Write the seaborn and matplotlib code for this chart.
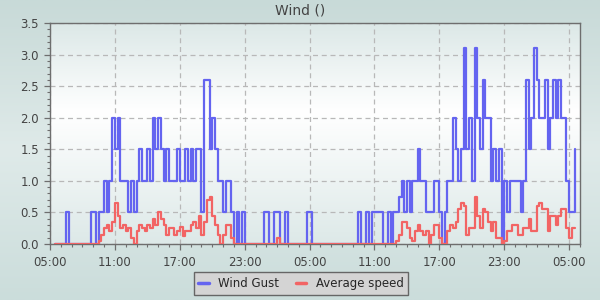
import numpy as np
import pandas as pd
import matplotlib
matplotlib.use("Agg")
import matplotlib.pyplot as plt
from matplotlib.lines import Line2D
from matplotlib.ticker import MultipleLocator
import seaborn as sns

# ---------------- data (15-minute samples, hours after 05:00 of day 1) ----------------
start_hour = 0.5
step_hours = 0.25

wind_gust = [
    0, 0,
    0, 0, 0.5, 0,
    0, 0, 0, 0,
    0, 0, 0, 0.5,
    0.5, 0, 0.5, 0.5,
    1.0, 0.5, 1.0, 2.0,
    1.5, 2.0, 1.0, 1.0,
    1.0, 0.5, 1.0, 0.5,
    1.0, 1.5, 1.0, 1.0,
    1.5, 1.0, 2.0, 1.5,
    2.0, 1.5, 1.0, 1.5,
    1.0, 1.0, 1.0, 1.5,
    1.0, 1.0, 1.5, 1.0,
    1.5, 1.0, 1.5, 1.5,
    0.5, 2.6, 2.6, 1.5,
    2.0, 1.5, 1.0, 1.0,
    0.5, 1.0, 1.0, 0.5,
    0, 0.5, 0, 0.5,
    0, 0, 0, 0,
    0, 0, 0, 0.5,
    0.5, 0, 0, 0.5,
    0.5, 0, 0, 0.5,
    0, 0, 0, 0,
    0, 0, 0, 0.5,
    0.5, 0, 0, 0,
    0, 0, 0, 0,
    0, 0, 0, 0,
    0, 0, 0, 0,
    0, 0, 0.5, 0,
    0, 0.5, 0, 0.5,
    0.5, 0.5, 0.5, 0,
    0, 0.5, 0, 0.5,
    0.5, 0.75, 1.0, 0.5,
    1.0, 0.5, 1.0, 1.0,
    1.5, 1.0, 1.0, 0.5,
    0.5, 0.5, 1.0, 1.0,
    0.5, 0, 0.5, 1.0,
    1.0, 2.0, 1.5, 1.0,
    1.5, 3.1, 1.5, 2.0,
    1.0, 3.1, 2.0, 1.5,
    2.6, 2.0, 2.0, 1.0,
    1.5, 1.0, 1.5, 0,
    1.0, 0.5, 1.0, 1.0,
    1.0, 1.0, 0.5, 1.0,
    2.6, 1.5, 2.0, 3.1,
    2.6, 2.0, 2.0, 2.6,
    1.5, 2.0, 2.6, 2.0,
    2.6, 2.0, 2.0, 1.0,
    0.5, 0.5, 1.5,
]

average_speed = [
    0, 0,
    0, 0, 0, 0,
    0, 0, 0, 0,
    0, 0, 0, 0,
    0, 0, 0.05, 0.15,
    0.25, 0.3, 0.2, 0.35,
    0.65, 0.45, 0.25, 0.3,
    0.2, 0.25, 0.1, 0.0,
    0.2, 0.3, 0.25, 0.2,
    0.3, 0.25, 0.4, 0.3,
    0.5, 0.4, 0.3, 0.15,
    0.25, 0.25, 0.15, 0.2,
    0.27, 0.12, 0.2, 0.2,
    0.3, 0.35, 0.25, 0.45,
    0.15, 0.35, 0.7, 0.75,
    0.45, 0.3, 0.15, 0.0,
    0.15, 0.3, 0.3, 0.1,
    0, 0, 0, 0,
    0, 0, 0, 0,
    0, 0, 0, 0,
    0, 0, 0, 0,
    0.1, 0, 0, 0,
    0, 0, 0, 0,
    0, 0, 0, 0,
    0, 0, 0, 0,
    0, 0, 0, 0,
    0, 0, 0, 0,
    0, 0, 0, 0,
    0, 0, 0, 0,
    0, 0, 0, 0,
    0, 0, 0, 0,
    0, 0, 0, 0,
    0.05, 0.15, 0.35, 0.35,
    0.25, 0.1, 0.05, 0.2,
    0.3, 0.2, 0.15, 0.2,
    0.0, 0.15, 0.3, 0.3,
    0.1, 0.0, 0.0, 0.2,
    0.3, 0.25, 0.35, 0.55,
    0.65, 0.6, 0.15, 0.25,
    0.25, 0.75, 0.45, 0.25,
    0.55, 0.5, 0.35, 0.2,
    0.35, 0.1, 0.1, 0.0,
    0.05, 0.2, 0.2, 0.3,
    0.3, 0.15, 0.15, 0.25,
    0.25, 0.4, 0.2, 0.2,
    0.6, 0.65, 0.55, 0.55,
    0.2, 0.45, 0.45, 0.3,
    0.45, 0.55, 0.55, 0.25,
    0.1, 0.25, 0.25,
]

series_names = ["Wind Gust", "Average speed"]
series_colors = ["#6464f0", "#f26464"]
x_tick_hours = [0, 6, 12, 18, 24, 30, 36, 42, 48]
x_tick_labels = ["05:00", "11:00", "17:00", "23:00", "05:00", "11:00", "17:00", "23:00", "05:00"]
y_ticks = [0.0, 0.5, 1.0, 1.5, 2.0, 2.5, 3.0, 3.5]
title = "Wind ()"

# ---------------- build table ----------------
df = pd.concat([
    pd.DataFrame({"hour": start_hour + step_hours * np.arange(len(wind_gust)),
                  "value": wind_gust, "series": series_names[0]}),
    pd.DataFrame({"hour": start_hour + step_hours * np.arange(len(average_speed)),
                  "value": average_speed, "series": series_names[1]}),
], ignore_index=True)

sns.set_theme(style="white")
plt.rcParams["font.family"] = ["DejaVu Sans"]

fig = plt.figure(figsize=(6, 3), dpi=100)

# figure background gradient
bg = fig.add_axes([0, 0, 1, 1], zorder=-10)
bg.axis("off")
pos = np.linspace(0, 1, 200)
top_c = np.array([200, 218, 216]) / 255
mid_c = np.array([223, 234, 233]) / 255
bot_c = np.array([203, 221, 219]) / 255
cols = np.where(pos[:, None] < 0.5,
                top_c + (mid_c - top_c) * (pos[:, None] / 0.5),
                mid_c + (bot_c - mid_c) * ((pos[:, None] - 0.5) / 0.5))
bg.imshow(cols[:, None, :], extent=[0, 1, 0, 1], aspect="auto", origin="upper")
bg.set_xlim(0, 1)
bg.set_ylim(0, 1)

ax = fig.add_axes([50 / 600, 56 / 300, 530 / 600, 221 / 300])
ax.set_facecolor("none")
# plot area gradient
p_top = np.array([220, 232, 231]) / 255
p_mid = np.array([255, 255, 255]) / 255
p_bot = np.array([221, 233, 232]) / 255
pc = np.where(pos[:, None] < 0.4,
              p_top + (p_mid - p_top) * (pos[:, None] / 0.4),
              p_mid + (p_bot - p_mid) * ((pos[:, None] - 0.4) / 0.6))
ax.imshow(pc[:, None, :], extent=[0, 1, 0, 1], transform=ax.transAxes,
          aspect="auto", origin="upper", zorder=-1)

sns.lineplot(data=df, x="hour", y="value", hue="series", hue_order=series_names,
             palette=dict(zip(series_names, series_colors)), estimator=None, sort=False,
             drawstyle="steps-post", linewidth=1.6, legend=False, ax=ax, zorder=3)

ax.set_xlim(0, 49)
ax.set_ylim(0, 3.5)
ax.set_xlabel("")
ax.set_ylabel("")
ax.set_xticks(x_tick_hours)
ax.set_xticklabels(x_tick_labels)
ax.set_yticks(y_ticks)
ax.set_yticklabels([f"{v:.1f}" for v in y_ticks])
ax.xaxis.set_minor_locator(MultipleLocator(1))
ax.yaxis.set_minor_locator(MultipleLocator(0.1))
ax.set_axisbelow(True)
ax.grid(True, which="major", color="#b8b8b8", linestyle=(0, (4, 3)), linewidth=0.9)

for s in ax.spines.values():
    s.set_visible(True)
    s.set_color("#6e6e6e")
    s.set_linewidth(1.0)

ax.tick_params(axis="both", which="major", direction="out", length=4, width=0.9,
               color="#6e6e6e", labelsize=8.5, labelcolor="#444444",
               bottom=True, left=True, top=False, right=False)
ax.tick_params(axis="both", which="minor", direction="out", length=2.5, width=0.8,
               color="#6e6e6e", bottom=True, left=True, top=False, right=False)
ax.tick_params(axis="x", which="major", pad=5)
ax.tick_params(axis="y", which="major", pad=4)

fig.text(0.5, 1 - 11 / 300, title, ha="center", va="center", fontsize=10, color="#444444")

handles = [Line2D([0], [0], color=c, lw=2.5) for c in series_colors]
leg = fig.legend(handles, series_names, loc="center", bbox_to_anchor=(301 / 600, 1 - 283.5 / 300),
                 ncol=2, frameon=True, fancybox=False, edgecolor="#666666", facecolor="#d4d4d4",
                 framealpha=1, fontsize=8.5, handlelength=0.9, handletextpad=0.8,
                 columnspacing=1.4, borderpad=0.4)
leg.get_frame().set_linewidth(1.0)

fig.savefig("out.png", dpi=100)
